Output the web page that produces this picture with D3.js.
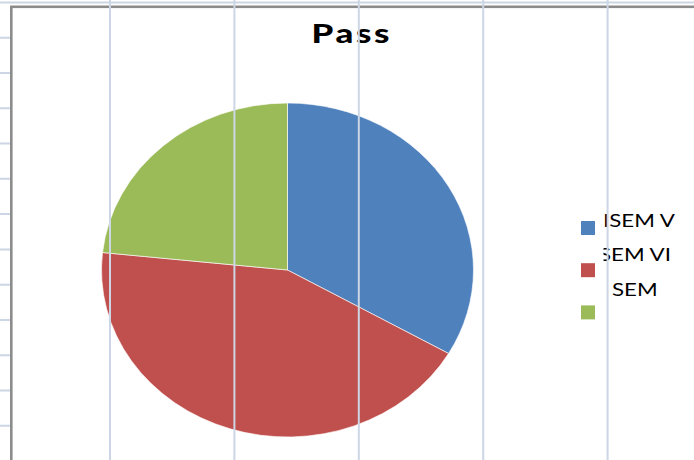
<!DOCTYPE html>
<html>
<head>
<meta charset="utf-8">
<script src="https://cdn.jsdelivr.net/npm/d3@7"></script>
<style>
  body { margin: 0; background: #fff; }
  svg { display: block; }
</style>
</head>
<body>
<div id="plot"></div>
<script>
// Data
const categories = ["ISEM V", "SEM VI", "SEM"];
const passValues = [30, 39, 21];
const sliceColors = ["#4F81BD", "#C0504D", "#9BBB59"];
const chartTitle = "Pass";

const W = 694, H = 460;
const gridColor = "#CCD6E4";
const font = "Lato, 'Open Sans', sans-serif";

const svg = d3.select("#plot").append("svg")
  .attr("width", W)
  .attr("height", H);

// spreadsheet cell lines behind the chart (rows)
const rowY = d3.scaleLinear().domain([0, 1]).range([2.5, 37.77]);
svg.append("g")
  .selectAll("line")
  .data(d3.range(0, 14))
  .join("line")
  .attr("x1", 0).attr("x2", W)
  .attr("y1", d => rowY(d)).attr("y2", d => rowY(d))
  .attr("stroke", gridColor)
  .attr("stroke-width", 2);

// chart area
svg.append("rect")
  .attr("x", 11.3).attr("y", 6.8)
  .attr("width", W + 20).attr("height", H + 20)
  .attr("fill", "#fff")
  .attr("stroke", "#8C8C8C")
  .attr("stroke-width", 2.6);

// title
const title = svg.append("text")
  .attr("x", 311.5)
  .attr("y", 43.5)
  .style("font-family", font)
  .style("font-weight", "900")
  .style("font-size", "26px")
  .style("letter-spacing", "2px")
  .attr("fill", "#000")
  .text(chartTitle);
// stretch to the width of the original title
const tw = title.node().getBBox().width - 2;
title.attr("transform", `translate(311.5,0) scale(${78 / tw},1) translate(-311.5,0)`);

// pie (slightly stretched horizontally, like the original)
const ry = 167, rx = 186;
const pie = d3.pie().sort(null).value(d => d);
const arc = d3.arc().innerRadius(0).outerRadius(ry);

const pieG = svg.append("g")
  .attr("transform", `translate(287.5,270) scale(${rx / ry},1)`);

pieG.selectAll("path")
  .data(pie(passValues))
  .join("path")
  .attr("d", arc)
  .attr("fill", (d, i) => sliceColors[i])
  .attr("stroke", "#fff")
  .attr("stroke-width", 0.6);

// legend
const legend = svg.append("g");
const keyY = d3.scaleLinear().domain([0, 1]).range([221, 263.2]);
const labelY = d3.scaleLinear().domain([0, 1]).range([227, 261.5]);

legend.selectAll("rect")
  .data(categories)
  .join("rect")
  .attr("x", 581)
  .attr("y", (d, i) => keyY(i))
  .attr("width", 14)
  .attr("height", 14)
  .attr("fill", (d, i) => sliceColors[i]);

svg.append("clipPath").attr("id", "legclip")
  .append("rect").attr("x", 603.5).attr("y", 190).attr("width", 100).attr("height", 140);

const labels = legend.append("g")
  .attr("clip-path", "url(#legclip)")
  .append("g");

labels.selectAll("text")
  .data(categories)
  .join("text")
  .attr("x", (d, i) => [603, 599, 612][i])
  .attr("y", (d, i) => labelY(i))
  .style("font-family", font)
  .style("font-size", "18px")
  .attr("fill", "#000")
  .text(d => d);

// labels in the original are wider: stretch around the left edge
const lw = labels.select("text").node().getComputedTextLength();
labels.selectAll("text")
  .attr("transform", (d, i) => {
    const x0 = [603, 599, 612][i];
    return `translate(${x0},0) scale(${72 / lw},1) translate(${-x0},0)`;
  });

// spreadsheet column lines drawn over the chart
const colX = d3.scaleLinear().domain([0, 1]).range([110, 234.4]);
svg.append("g")
  .selectAll("line")
  .data(d3.range(0, 5))
  .join("line")
  .attr("x1", d => colX(d)).attr("x2", d => colX(d))
  .attr("y1", 0).attr("y2", H)
  .attr("stroke", gridColor)
  .attr("stroke-width", 2);
</script>
</body>
</html>
